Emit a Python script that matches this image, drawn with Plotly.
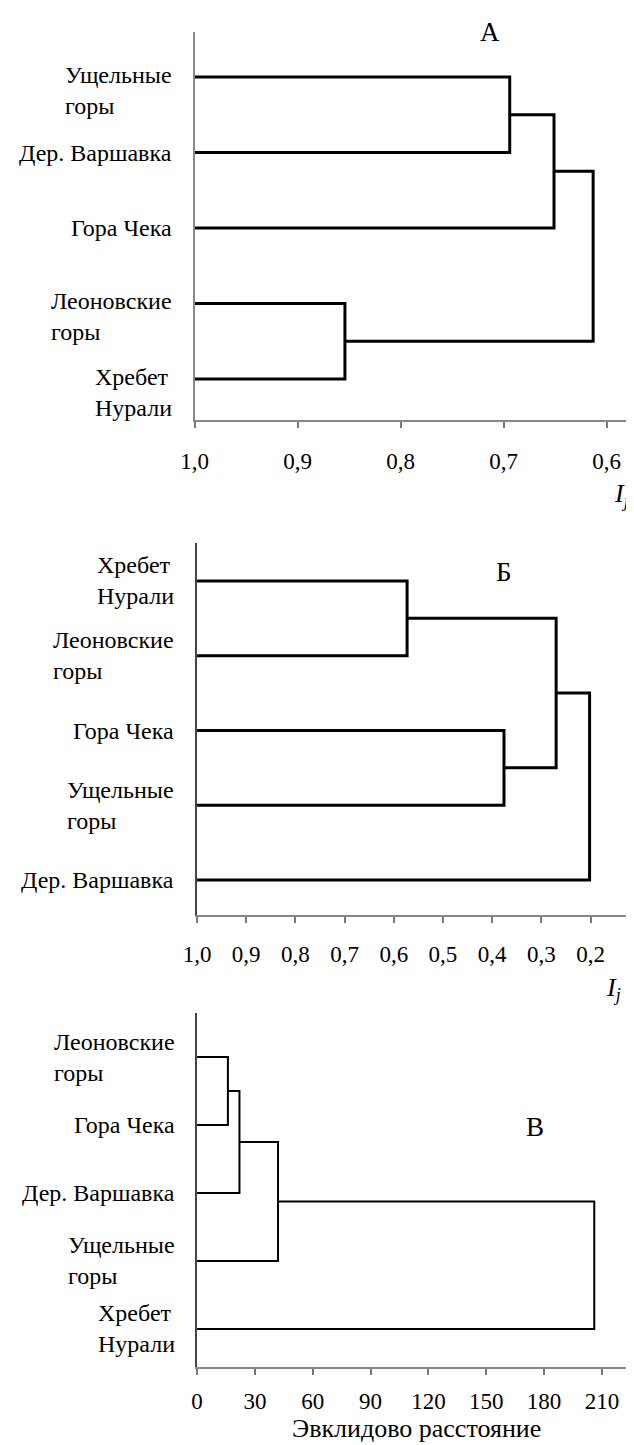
import plotly.graph_objects as go

W, H = 634, 1445
OFF = 8  # default page body margin of the html page
FONT = "Liberation Serif"

# ---------------- data ----------------
# Panel A: Jaccard index I_j
a_leaves = ["Ущельные<br>горы", "Дер. Варшавка", "Гора Чека", "Леоновские<br>горы", "Хребет<br>Нурали"]
a_merges = [(0, 1, 0.694), (5, 2, 0.651), (3, 4, 0.854), (6, 7, 0.613)]
a_base = 1.0
a_tickvals = [1.0, 0.9, 0.8, 0.7, 0.6]
a_ticktext = ["1,0", "0,9", "0,8", "0,7", "0,6"]

# Panel B: index I_j
b_leaves = ["Хребет<br>Нурали", "Леоновские<br>горы", "Гора Чека", "Ущельные<br>горы", "Дер. Варшавка"]
b_merges = [(0, 1, 0.573), (2, 3, 0.376), (5, 6, 0.270), (7, 4, 0.202)]
b_base = 1.0
b_tickvals = [1.0, 0.9, 0.8, 0.7, 0.6, 0.5, 0.4, 0.3, 0.2]
b_ticktext = ["1,0", "0,9", "0,8", "0,7", "0,6", "0,5", "0,4", "0,3", "0,2"]

# Panel C: Euclidean distance
c_leaves = ["Леоновские<br>горы", "Гора Чека", "Дер. Варшавка", "Ущельные<br>горы", "Хребет<br>Нурали"]
c_merges = [(0, 1, 16), (5, 2, 22), (6, 3, 42), (7, 4, 206)]
c_base = 0
c_tickvals = [0, 30, 60, 90, 120, 150, 180, 210]
c_ticktext = ["0", "30", "60", "90", "120", "150", "180", "210"]

panel_letters = ["А", "Б", "В"]
x_title_c = "Эвклидово расстояние"


def dendro(leaves, merges, base):
    n = len(leaves)
    pos = {i: float(i) for i in range(n)}
    ht = {i: base for i in range(n)}
    xs, ys = [], []
    for k, (a, b, h) in enumerate(merges):
        xs += [ht[a], h, h, ht[b], None]
        ys += [pos[a], pos[a], pos[b], pos[b], None]
        pos[n + k] = (pos[a] + pos[b]) / 2
        ht[n + k] = h
    return xs, ys


def px_x(p):
    return (p - OFF) / W


def px_y(p):
    return 1 - (p - OFF) / H


fig = go.Figure()

# layout geometry (pixels of the reference picture)
panels = [
    dict(leaves=a_leaves, merges=a_merges, base=a_base, tv=a_tickvals, tt=a_ticktext,
         xl=184.5, xr=627, yt=32, yb=420, xrange=[1.0, 0.5798], yrange=[4.543, -0.596],
         lw=3, label_right=163, twoline_shift=-13, standoff=13, ycol="#888"),
    dict(leaves=b_leaves, merges=b_merges, base=b_base, tv=b_tickvals, tt=b_ticktext,
         xl=187, xr=629, yt=543, yb=915, xrange=[1.0, 0.1213], yrange=[4.468, -0.508],
         lw=3, label_right=165, twoline_shift=0, standoff=11, ycol="#444"),
    dict(leaves=c_leaves, merges=c_merges, base=c_base, tv=c_tickvals, tt=c_ticktext,
         xl=187, xr=633, yt=1013, yb=1367, xrange=[0, 226.2], yrange=[4.559, -0.647],
         lw=2, label_right=167, twoline_shift=0, standoff=6, ycol="#444"),
]

annotations = []
for i, p in enumerate(panels):
    sx = "" if i == 0 else str(i + 1)
    xs, ys = dendro(p["leaves"], p["merges"], p["base"])
    fig.add_trace(go.Scatter(x=xs, y=ys, mode="lines", xaxis="x" + sx, yaxis="y" + sx,
                             line=dict(color="black", width=p["lw"]), hoverinfo="skip",
                             showlegend=False))
    fig.layout["xaxis" + sx] = dict(
        domain=[px_x(p["xl"]), px_x(p["xr"])], anchor="y" + sx, range=p["xrange"],
        tickvals=p["tv"], ticktext=p["tt"], ticks="outside", ticklen=6, tickwidth=1.5,
        tickcolor="#777", showline=True, linecolor="#888", linewidth=1.8,
        showgrid=False, zeroline=False, ticklabelstandoff=p["standoff"],
        tickfont=dict(family=FONT, size=23, color="black"))
    fig.layout["yaxis" + sx] = dict(
        domain=[px_y(p["yb"]), px_y(p["yt"])], anchor="x" + sx, range=p["yrange"],
        showline=True, linecolor=p["ycol"], linewidth=1.5, showgrid=False, zeroline=False,
        showticklabels=False, ticks="")
    for j, name in enumerate(p["leaves"]):
        annotations.append(dict(
            x=px_x(p["label_right"]), xref="paper", y=j, yref="y" + sx,
            text=name, showarrow=False, xanchor="right", yanchor="middle", align="left",
            yshift=p["twoline_shift"] if "<br>" in name else 0,
            font=dict(family=FONT, size=24, color="black")))

letter_pos = [(487, 32), (501, 572), (533, 1127)]
for letter, (lx, ly) in zip(panel_letters, letter_pos):
    annotations.append(dict(x=px_x(lx), y=px_y(ly), xref="paper", yref="paper", text=letter,
                            showarrow=False, xanchor="center", yanchor="middle",
                            font=dict(family=FONT, size=27, color="black")))

for (ix, iy) in [(621, 495), (613, 989)]:
    annotations.append(dict(x=px_x(ix), y=px_y(iy), xref="paper", yref="paper",
                            text="<i>I</i><sub><i>j</i></sub>", showarrow=False,
                            xanchor="center", yanchor="middle",
                            font=dict(family=FONT, size=26, color="black")))

annotations.append(dict(x=px_x(411), y=px_y(1428), xref="paper", yref="paper", text=x_title_c,
                        showarrow=False, xanchor="center", yanchor="middle",
                        font=dict(family=FONT, size=26, color="black")))

fig.update_layout(width=W, height=H, margin=dict(l=0, r=0, t=0, b=0),
                  paper_bgcolor="white", plot_bgcolor="white", annotations=annotations,
                  showlegend=False)

fig.write_html("out.html")
